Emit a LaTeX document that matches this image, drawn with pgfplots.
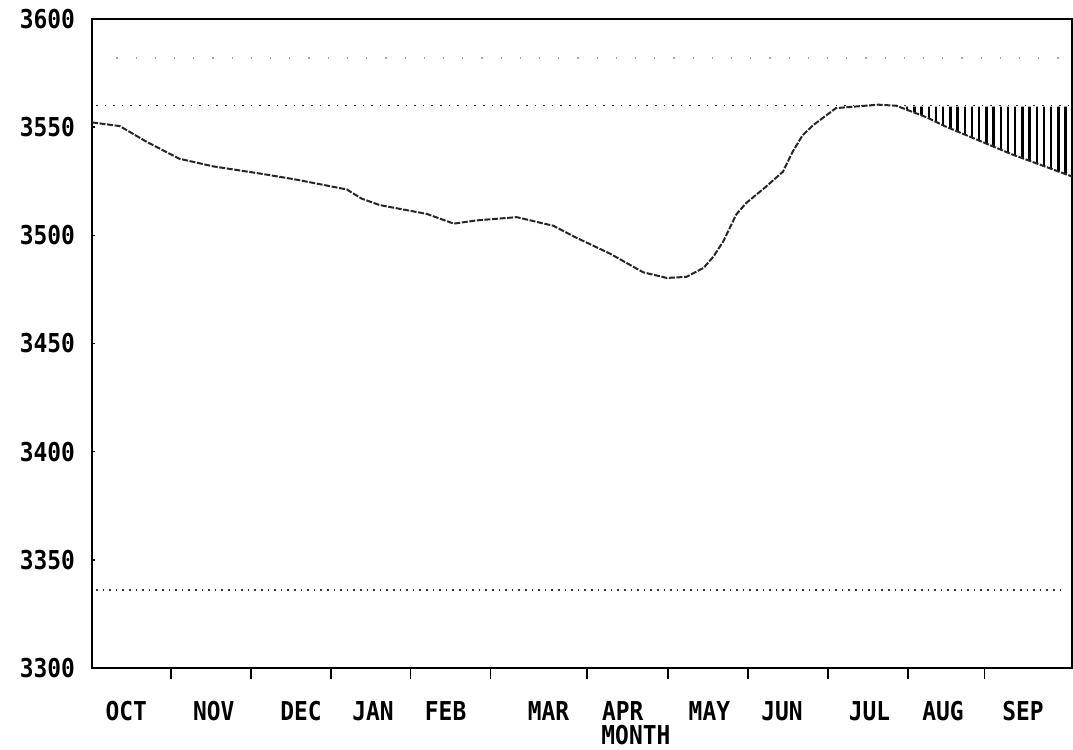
\documentclass[border=0pt]{standalone}
\usepackage{fontspec}
\usepackage{pgfplots}
\pgfplotsset{compat=1.18}
\usetikzlibrary{patterns.meta}
\newfontfamily\plotfont[FakeStretch=0.88]{DejaVu Sans Mono}
\pgfplotstableread{
m val
0.00 3552.2
0.34 3550.5
0.67 3543.2
1.07 3535.4
1.48 3531.9
2.10 3528.3
2.51 3525.7
3.12 3521.2
3.30 3517.0
3.52 3514.0
4.10 3509.9
4.43 3505.4
4.71 3506.9
5.20 3508.4
5.65 3504.4
5.93 3498.9
6.34 3491.6
6.75 3482.9
7.04 3480.3
7.28 3480.8
7.49 3485.0
7.61 3490.2
7.73 3497.2
7.89 3509.7
8.01 3514.9
8.25 3522.4
8.46 3529.4
8.58 3538.7
8.70 3546.2
8.83 3550.9
9.11 3558.8
9.63 3560.4
9.85 3559.9
10.23 3554.4
10.44 3550.5
11.26 3537.5
12.00 3527.2
}\elev
\begin{document}
\begin{tikzpicture}
\path[use as bounding box] (-46pt,-41pt) rectangle (490.5pt,334pt);
\begin{axis}[
  at={(0,0)}, anchor=south west, scale only axis,
  width=490pt, height=324.5pt,
  xmin=0, xmax=12, ymin=3300, ymax=3600,
  axis line style={line width=1.2pt},
  tick pos=left,
  ytick={3300,3350,3400,3450,3500,3550,3600},
  y tick label style={xshift=-5pt},
  /pgf/number format/1000 sep={},
  /pgf/number format/assume math mode=true,
  ytick align=inside,
  major tick length=1.5pt,
  tick style={black, line width=0.8pt},
  xtick={0.42,1.49,2.56,3.44,4.33,5.59,6.50,7.56,8.45,9.52,10.42,11.40},
  xticklabels={OCT,NOV,DEC,JAN,FEB,MAR,APR,MAY,JUN,JUL,AUG,SEP},
  x tick style={draw=none},
  x tick label style={yshift=-13pt},
  extra x ticks={0.965,1.95,2.93,3.90,4.88,6.06,7.05,8.03,9.01,9.99,10.93},
  extra x tick labels={},
  extra x tick style={tick align=outside, major tick length=5.5pt, x tick style={draw=black, line width=0.8pt}},
  ticklabel style={font={\plotfont\bfseries\fontsize{13pt}{15pt}\selectfont}},
  xlabel={MONTH},
  xlabel style={at={(axis description cs:0.555,-0.103)}, anchor=center, font={\plotfont\bfseries\fontsize{13pt}{15pt}\selectfont}},
  clip=false,
]
% hatched area between the 3560 line and the curve
\addplot[draw=none, pattern={Lines[angle=90, distance=3.6pt, line width=1.2pt]}, pattern color=black]
  coordinates {(9.90,3559.5) (10.23,3554.4) (10.44,3550.5) (11.26,3537.5) (12.00,3527.2) (12.00,3559.5)} -- cycle;
% dotted reference lines
\addplot[black!80, line width=0.8pt, dash pattern=on 0.8pt off 3.5pt] coordinates {(0.05,3560) (12,3560)};
\addplot[black!80, line width=0.8pt, dash pattern=on 0.8pt off 2.5pt] coordinates {(0.05,3336) (11.9,3336)};
\addplot[black!35, line width=0.6pt, dash pattern=on 0.6pt off 9pt] coordinates {(0.3,3582) (12,3582)};
% main curve
\addplot[black!85, line width=1pt, dash pattern=on 3pt off 0.8pt] table[x=m, y=val] {\elev};
\end{axis}
\end{tikzpicture}
\end{document}
